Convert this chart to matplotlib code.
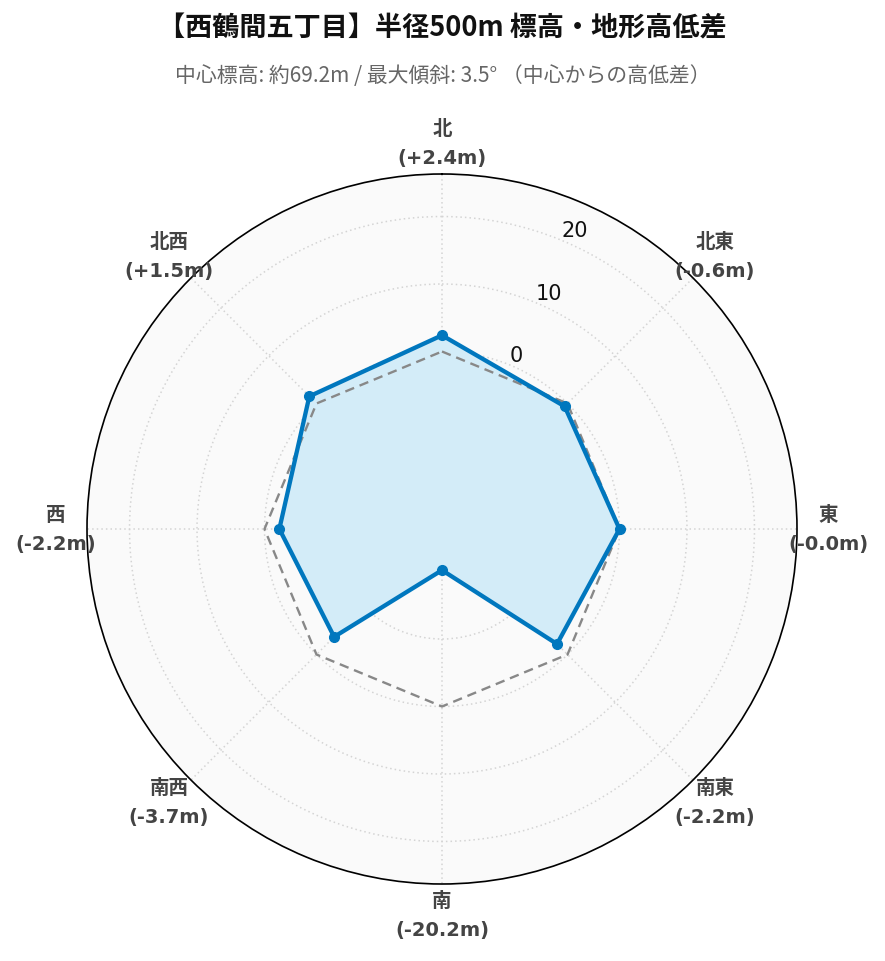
import numpy as np
import matplotlib
matplotlib.use("Agg")
import matplotlib.pyplot as plt

directions = ["北", "北東", "東", "南東", "南", "南西", "西", "北西"]
diffs = [2.4, -0.6, -0.0, -2.2, -20.2, -3.7, -2.2, 1.5]
diff_labels = ["+2.4", "-0.6", "-0.0", "-2.2", "-20.2", "-3.7", "-2.2", "+1.5"]
reference = [0, 0, 0, 0, 0, 0, 0, 0]
r_ticks = [-20, -10, 0, 10, 20]
r_limit = 26.3

title = "【西鶴間五丁目】半径500m 標高・地形高低差"
subtitle = "中心標高: 約69.2m / 最大傾斜: 3.5° （中心からの高低差）"

fig = plt.figure(figsize=(8.85, 9.62), dpi=100)
ax = fig.add_axes([87/885, 77/962, 710/885, 710/962], projection="polar")
ax.set_theta_zero_location("N")
ax.set_theta_direction(-1)
ax.set_facecolor("#fafafa")

theta = np.deg2rad(np.arange(len(directions)) * 45.0)
tc = np.append(theta, theta[0])
dc = np.append(diffs, diffs[0])
rc = np.append(reference, reference[0])

ax.fill(tc, dc, color="#d3ecf8", zorder=2)
ax.plot(tc, rc, color="#888888", lw=1.7, ls=(0, (4, 2.5)), zorder=3)
ax.plot(tc, dc, color="#0077be", lw=3.1, zorder=4)
ax.plot(theta, diffs, "o", color="#0077be", ms=7, zorder=5)

ax.set_rlim(-r_limit, r_limit)
ax.set_rticks(r_ticks)
ax.set_yticklabels(["\u2212" + str(abs(t)) if t < 0 else str(t) for t in r_ticks],
                   fontsize=15, color="#111111", family=["DejaVu Sans"])
ax.set_rlabel_position(22.5)
ax.set_xticks(theta)
ax.set_xticklabels([])
ax.grid(True, color="#d4d4d4", ls=(0, (1, 2)), lw=1.1)
ax.spines["polar"].set_color("black")
ax.spines["polar"].set_linewidth(1.2)

lab_frac = 386 / 710
for t, d, s in zip(theta, directions, diff_labels):
    x = 0.5 + lab_frac * np.sin(t)
    y = 0.5 + lab_frac * np.cos(t)
    ax.text(x, y, f"{d}\n({s}m)", transform=ax.transAxes, ha="center", va="center",
            fontsize=14, fontweight="bold", color="#444444", linespacing=1.65,
            family=["DejaVu Sans", "Noto Sans CJK JP"], clip_on=False)

fig.text(0.5, 1 - 28/962, title, ha="center", va="center", fontsize=19.5,
         fontweight="bold", color="#111111", family=["Noto Sans CJK JP", "DejaVu Sans"])
fig.text(0.5, 1 - 76/962, subtitle, ha="center", va="center", fontsize=15,
         color="#666666", family=["Noto Sans CJK JP", "DejaVu Sans"])

fig.savefig("out.png", dpi=100, facecolor="white")
